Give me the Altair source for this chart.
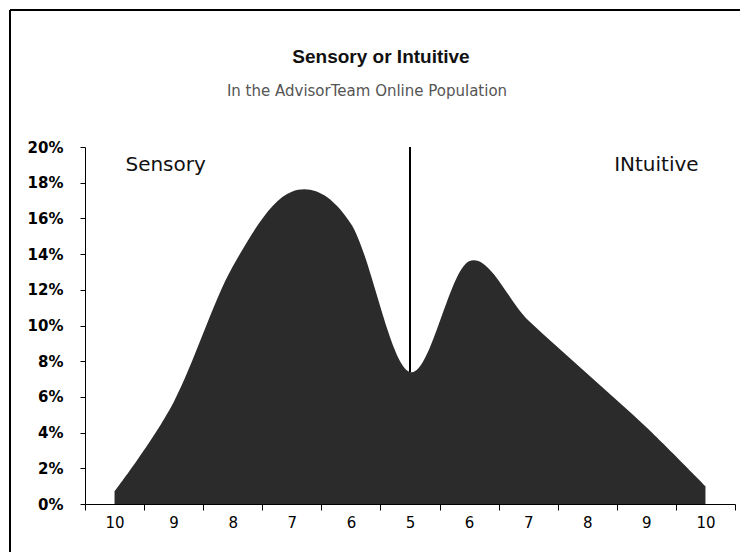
import json
import altair as alt
import pandas as pd

# ---- data ----
labels = ["10", "9", "8", "7", "6", "5", "6", "7", "8", "9", "10"]
values = [0.007, 0.057, 0.133, 0.175, 0.157, 0.074, 0.136, 0.103, 0.073, 0.043, 0.010]

divider_idx = [5]
divider_top = [0.20]

ann_text = ["Sensory", "INtuitive"]
ann_idx = [1, 9]
ann_y = [0.19, 0.19]

y_ticks = [0, 0.02, 0.04, 0.06, 0.08, 0.10, 0.12, 0.14, 0.16, 0.18, 0.20]

title_text = ["Sensory or Intuitive"]
subtitle_text = ["In the AdvisorTeam Online Population"]

W, H = 650, 357

df = pd.DataFrame({"idx": list(range(len(labels))), "value": values})
div_df = pd.DataFrame({"idx": divider_idx, "top": divider_top,
                       "bottom": [values[i] for i in divider_idx]})
ann_df = pd.DataFrame({"idx": ann_idx, "y": ann_y, "text": ann_text})
ttl_df = pd.DataFrame({"text": title_text})
sub_df = pd.DataFrame({"text": subtitle_text})

label_expr = json.dumps(labels) + "[datum.value]"

x_scale = alt.Scale(type="band", paddingInner=0, paddingOuter=0, domain=list(range(len(labels))))
y_scale = alt.Scale(domain=[0, 0.2], nice=False, zero=True)

x_axis = alt.Axis(title=None, labelExpr=label_expr, tickBand="extent", tickExtra=True,
                  labelAngle=0, labelFont="DejaVu Sans", labelFontSize=15,
                  labelColor="#000", labelPadding=5, tickSize=6, tickColor="#000",
                  domainColor="#000", grid=False)
y_axis = alt.Axis(title=None, values=y_ticks, format=".0%", labelFont="DejaVu Sans",
                  labelFontSize=15, labelFontWeight="bold", labelColor="#000",
                  labelOverlap=False, tickSize=5, tickColor="#000", domainColor="#000",
                  grid=False, labelPadding=17, tickCount=11)

area = alt.Chart(df).mark_area(interpolate="cardinal", color="#2b2b2b", opacity=1).encode(
    x=alt.X("idx:O", scale=x_scale, axis=x_axis),
    y=alt.Y("value:Q", scale=y_scale, axis=y_axis),
)

rule = alt.Chart(div_df).mark_rule(color="#000", strokeWidth=2).encode(
    x=alt.X("idx:O", scale=x_scale, axis=x_axis, bandPosition=0.5),
    y=alt.Y("top:Q", scale=y_scale, axis=y_axis),
    y2="bottom:Q",
)

ann_left = alt.Chart(ann_df.iloc[[0]]).mark_text(
    font="DejaVu Sans", fontSize=20, color="#111", baseline="middle", align="center", dx=-8
).encode(
    x=alt.X("idx:O", scale=x_scale, axis=x_axis, bandPosition=0.5),
    y=alt.Y("y:Q", scale=y_scale, axis=y_axis),
    text="text:N",
)
ann_right = alt.Chart(ann_df.iloc[[1]]).mark_text(
    font="DejaVu Sans", fontSize=20, color="#111", baseline="middle", align="center", dx=10
).encode(
    x=alt.X("idx:O", scale=x_scale, axis=x_axis, bandPosition=0.5),
    y=alt.Y("y:Q", scale=y_scale, axis=y_axis),
    text="text:N",
)

title = alt.Chart(ttl_df).mark_text(
    font="Liberation Sans", fontSize=19, fontWeight="bold", color="#111",
    baseline="middle", align="center"
).encode(x=alt.value(296), y=alt.value(-90), text="text:N")

subtitle = alt.Chart(sub_df).mark_text(
    font="DejaVu Sans", fontSize=15, color="#555", baseline="middle", align="center"
).encode(x=alt.value(282), y=alt.value(-56), text="text:N")

frame_left = alt.Chart(df).mark_rule(color="#000", strokeWidth=2).encode(
    x=alt.value(-75), y=alt.value(-137), y2=alt.value(H + 48))
frame_top = alt.Chart(df).mark_rule(color="#000", strokeWidth=2).encode(
    x=alt.value(-75), x2=alt.value(W + 5), y=alt.value(-137))

chart = alt.layer(frame_left, frame_top, area, rule, ann_left, ann_right, title, subtitle).properties(
    width=W, height=H,
    padding={"left": 77, "top": 139, "right": 5, "bottom": 48},
    autosize=alt.AutoSizeParams(type="none"),
).configure_view(stroke=None)

chart.save("out.html", embed_options={"renderer": "svg", "actions": False})
